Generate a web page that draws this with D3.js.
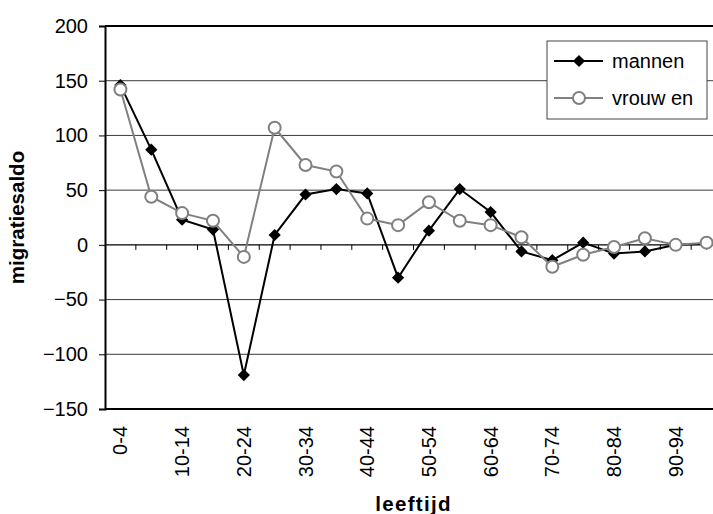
<!DOCTYPE html>
<html>
<head>
<meta charset="utf-8">
<script src="https://cdn.jsdelivr.net/npm/d3@7"></script>
<style>
  html, body { margin: 0; padding: 0; background: #fff; }
  svg { display: block; font-family: "Liberation Sans", Arial, sans-serif; }
</style>
</head>
<body>
<svg id="chart" width="713" height="514"></svg>
<script>
const categories = ["0-4","5-9","10-14","15-19","20-24","25-29","30-34","35-39","40-44","45-49",
                    "50-54","55-59","60-64","65-69","70-74","75-79","80-84","85-89","90-94","95-99"];
const tickLabels = ["0-4","10-14","20-24","30-34","40-44","50-54","60-64","70-74","80-84","90-94"];
const mannen  = [146, 87, 23, 14, -119, 9, 46, 51, 47, -30, 13, 51, 30, -6, -14, 2, -8, -6, 0, 1];
const vrouwen = [142, 44, 29, 22, -11, 107, 73, 67, 24, 18, 39, 22, 18, 7, -20, -9, -2, 6, 0, 2];
const yTicks = [-150, -100, -50, 0, 50, 100, 150, 200];
const seriesNames = ["mannen", "vrouw en"];

const svg = d3.select("#chart");
const L = 105, R = 722, T = 26, B = 409;

const x = d3.scaleBand().domain(categories).range([L, R]).padding(0);
const cx = c => x(c) + x.bandwidth() / 2;
const y = d3.scaleLinear().domain([-150, 200]).range([B, T]);

// gridlines
svg.append("g").selectAll("line").data(yTicks.filter(v => v !== 0 && v !== -150 && v !== 200))
  .join("line")
  .attr("x1", L).attr("x2", R)
  .attr("y1", d => y(d)).attr("y2", d => y(d))
  .attr("stroke", "#3a3a3a").attr("stroke-width", 1);

// top & bottom border lines
svg.append("line").attr("x1", L).attr("x2", R).attr("y1", y(200)).attr("y2", y(200))
  .attr("stroke", "#000").attr("stroke-width", 2);
svg.append("line").attr("x1", L).attr("x2", R).attr("y1", y(-150)).attr("y2", y(-150))
  .attr("stroke", "#000").attr("stroke-width", 2);

// y axis
const yAxis = svg.append("g").attr("transform", `translate(${L},0)`)
  .call(d3.axisLeft(y).tickValues(yTicks).tickSize(6).tickPadding(11).tickFormat(d3.format("d")));
yAxis.select(".domain").attr("stroke", "#000").attr("stroke-width", 2);
yAxis.selectAll(".tick line").attr("stroke", "#000");
yAxis.selectAll("text").attr("font-size", 20).attr("fill", "#000")
  .attr("font-family", "Liberation Sans, Arial, sans-serif");

// x axis at zero with boundary ticks
svg.append("line").attr("x1", L).attr("x2", R).attr("y1", y(0)).attr("y2", y(0))
  .attr("stroke", "#000").attr("stroke-width", 1.2);
svg.append("g").selectAll("line").data(categories.slice(1))
  .join("line")
  .attr("x1", d => x(d)).attr("x2", d => x(d))
  .attr("y1", y(0)).attr("y2", y(0) + 5)
  .attr("stroke", "#000").attr("stroke-width", 1);

// x labels at bottom
const xAxis = svg.append("g").attr("transform", `translate(0,${B})`)
  .call(d3.axisBottom(x).tickValues(tickLabels).tickSize(0).tickPadding(0));
xAxis.select(".domain").remove();
xAxis.selectAll("text")
  .attr("font-size", 20).attr("fill", "#000")
  .attr("font-family", "Liberation Sans, Arial, sans-serif")
  .attr("text-anchor", "end")
  .attr("transform", "rotate(-90)")
  .attr("x", -17).attr("y", 0).attr("dy", "0.35em");

// axis titles
svg.append("text").attr("transform", `translate(24,${(T + B) / 2}) rotate(-90)`)
  .attr("text-anchor", "middle").attr("font-weight", "bold").attr("font-size", 20.5)
  .text("migratiesaldo");
svg.append("text").attr("x", (L + R) / 2).attr("y", 511)
  .attr("text-anchor", "middle").attr("font-weight", "bold").attr("font-size", 20.5)
  .attr("letter-spacing", 1.3)
  .text("leeftijd");

// series
const line = d3.line().x((d, i) => cx(categories[i])).y(d => y(d));
const diamond = d3.symbol().type(d3.symbolDiamond2).size(95);

svg.append("path").datum(mannen).attr("d", line)
  .attr("fill", "none").attr("stroke", "#000").attr("stroke-width", 2);
svg.append("g").selectAll("path").data(mannen).join("path")
  .attr("d", diamond)
  .attr("transform", (d, i) => `translate(${cx(categories[i])},${y(d)})`)
  .attr("fill", "#000");

svg.append("path").datum(vrouwen).attr("d", line)
  .attr("fill", "none").attr("stroke", "#808080").attr("stroke-width", 2);
svg.append("g").selectAll("circle").data(vrouwen).join("circle")
  .attr("cx", (d, i) => cx(categories[i])).attr("cy", d => y(d)).attr("r", 6)
  .attr("fill", "#fff").attr("stroke", "#808080").attr("stroke-width", 2);

// legend
const lg = svg.append("g");
lg.append("rect").attr("x", 547).attr("y", 41).attr("width", 160).attr("height", 78)
  .attr("fill", "#fff").attr("stroke", "#444").attr("stroke-width", 1);
const rows = [61, 98];
lg.append("line").attr("x1", 554).attr("x2", 603).attr("y1", rows[0]).attr("y2", rows[0])
  .attr("stroke", "#000").attr("stroke-width", 2);
lg.append("path").attr("d", diamond).attr("transform", `translate(579,${rows[0]})`).attr("fill", "#000");
lg.append("line").attr("x1", 554).attr("x2", 603).attr("y1", rows[1]).attr("y2", rows[1])
  .attr("stroke", "#808080").attr("stroke-width", 2);
lg.append("circle").attr("cx", 579).attr("cy", rows[1]).attr("r", 6)
  .attr("fill", "#fff").attr("stroke", "#808080").attr("stroke-width", 2);
lg.selectAll("text").data(seriesNames).join("text")
  .attr("x", 612).attr("y", (d, i) => rows[i]).attr("dy", "0.35em")
  .attr("font-size", 20).attr("fill", "#000")
  .text(d => d);
</script>
</body>
</html>
